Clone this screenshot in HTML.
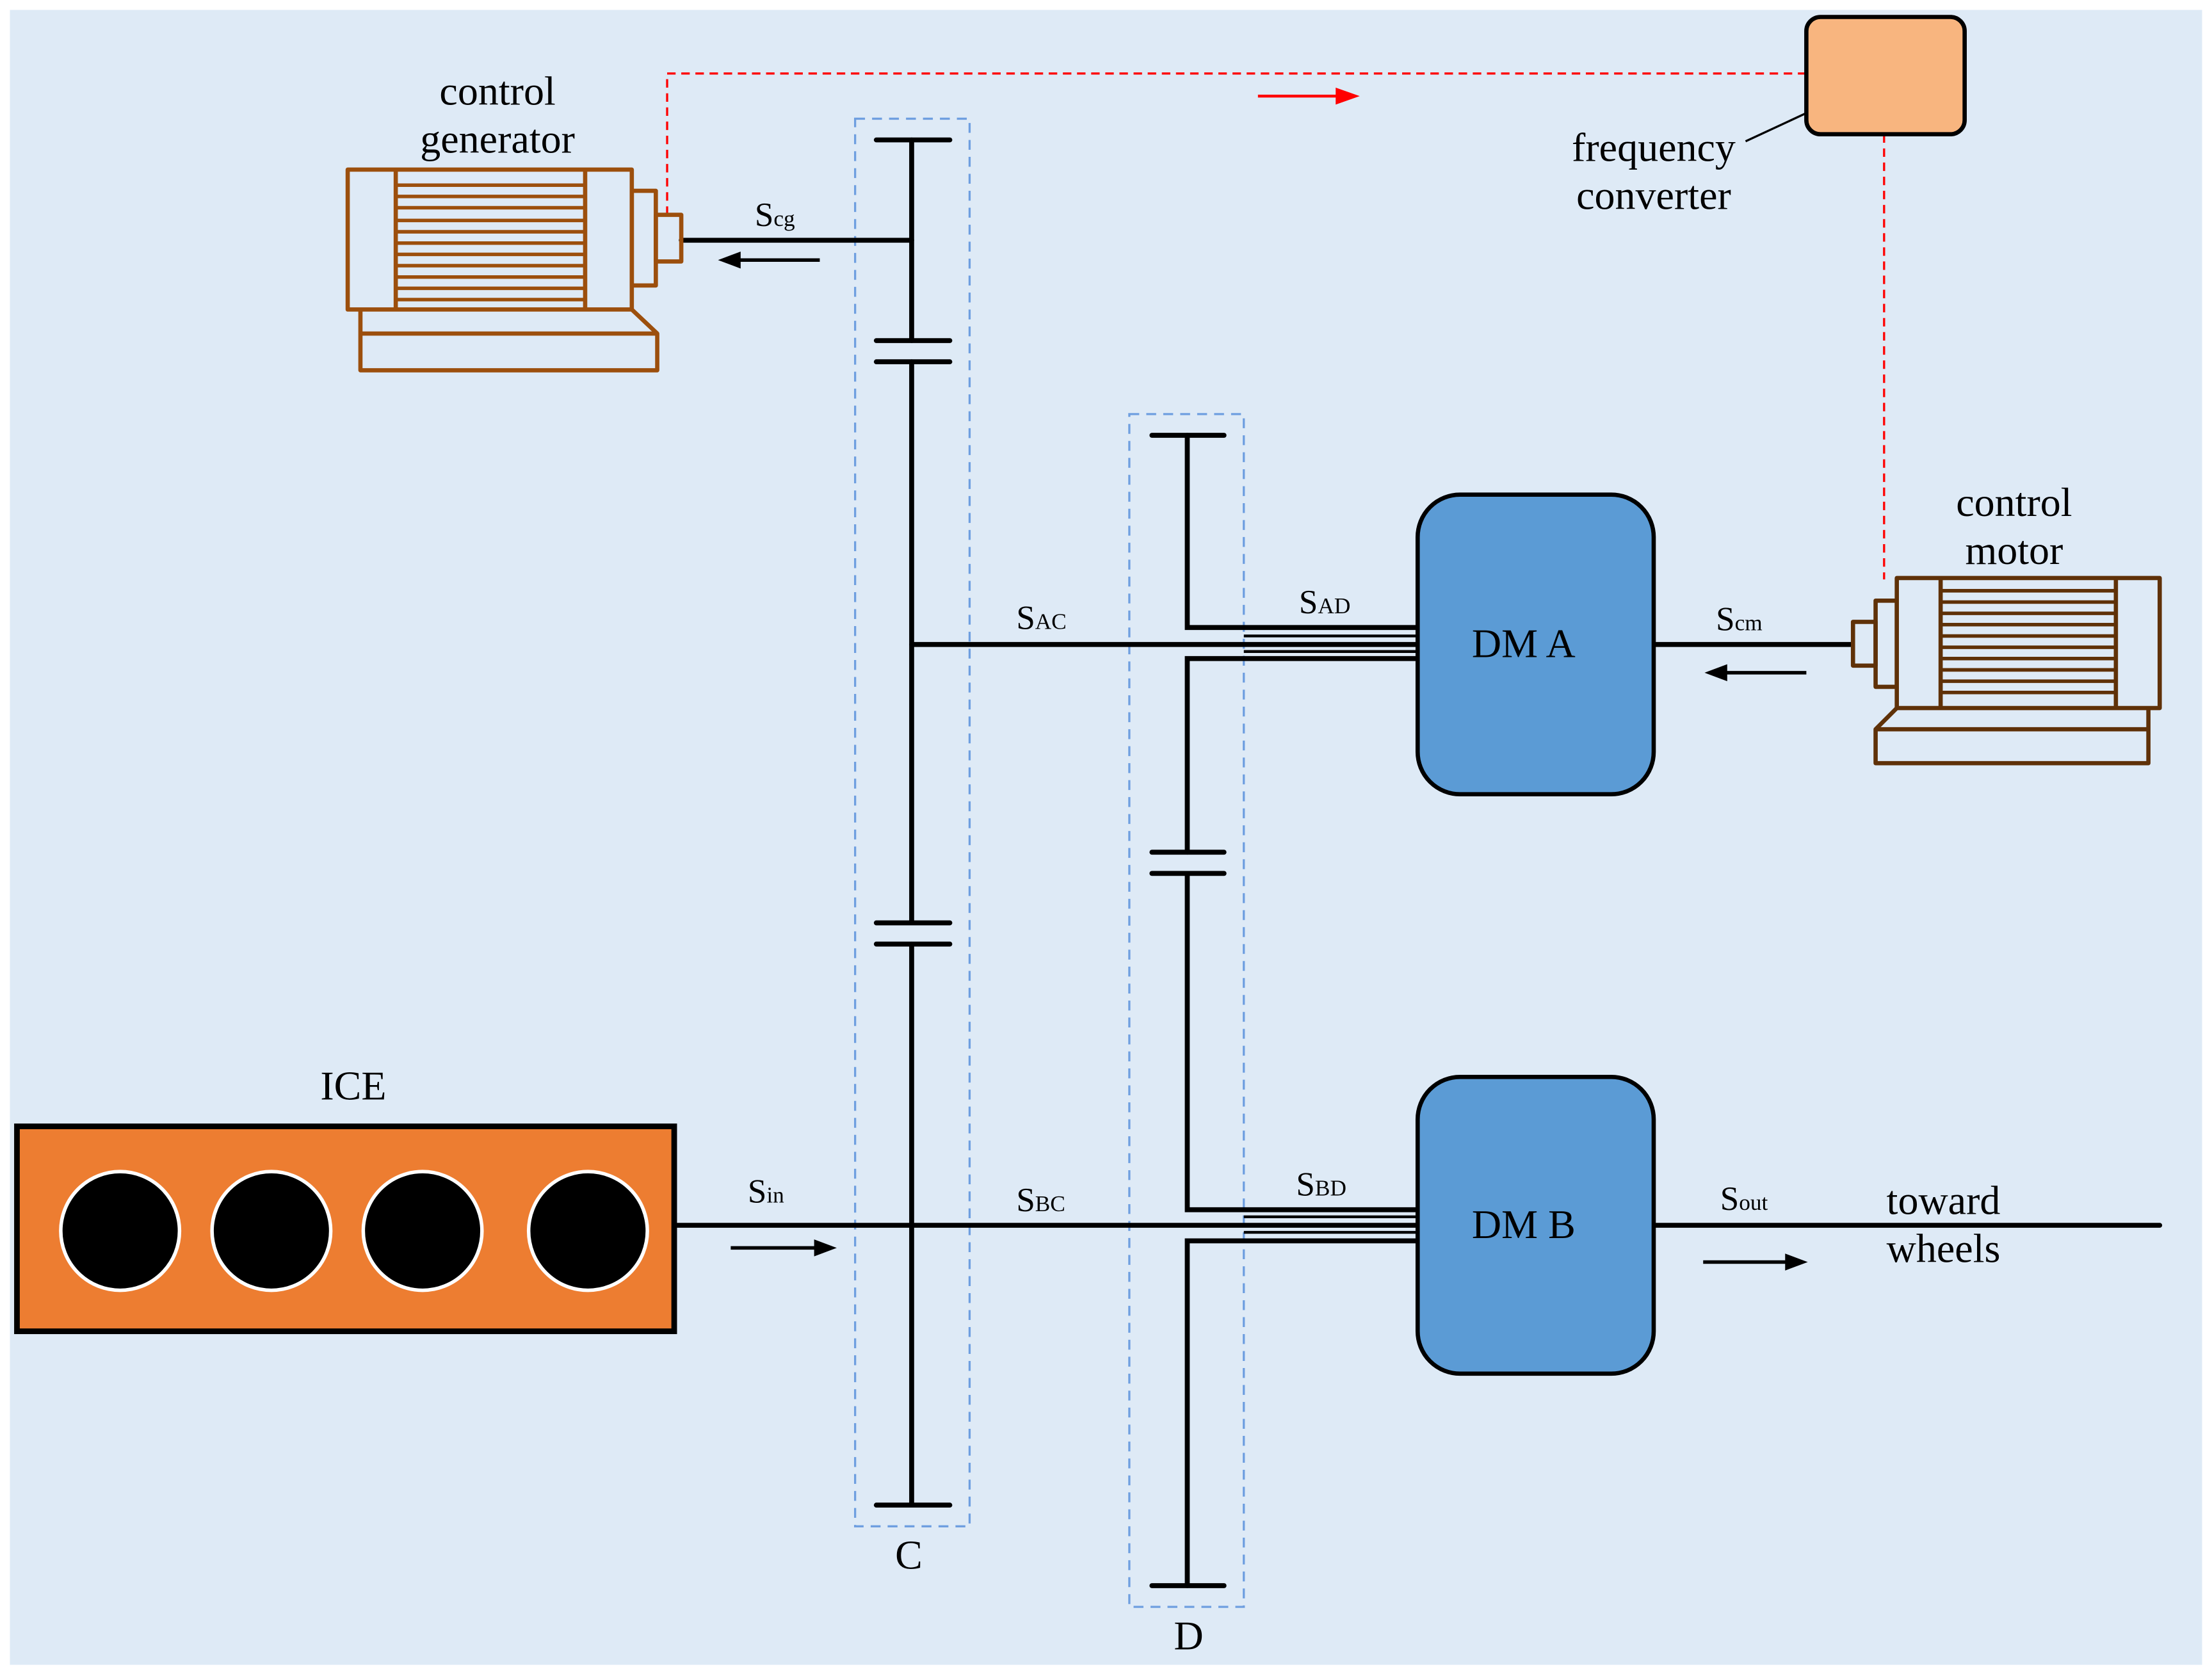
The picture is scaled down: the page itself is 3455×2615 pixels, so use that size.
<!DOCTYPE html>
<html><head><style>html,body{margin:0;padding:0;background:#fff}svg{display:block}text{font-family:"Liberation Serif",serif;fill:#000}</style></head><body>
<svg width="3455" height="2615" viewBox="0 0 1565 1184.5" xmlns="http://www.w3.org/2000/svg">
<rect x="0" y="0" width="1565" height="1185" fill="#fff"/>
<rect x="7" y="7" width="1551" height="1171" fill="#deeaf6"/>
<rect x="605" y="84" width="81" height="996" fill="none" stroke="#6f9fe0" stroke-width="1.5" stroke-dasharray="7,5"/>
<rect x="799" y="293" width="81" height="844" fill="none" stroke="#6f9fe0" stroke-width="1.5" stroke-dasharray="7,5"/>
<polyline points="472,152 472,52 1278,52" fill="none" stroke="#f00" stroke-width="1.5" stroke-dasharray="6,4"/>
<line x1="1333" y1="95" x2="1333" y2="410" stroke="#f00" stroke-width="1.5" stroke-dasharray="6,4"/>
<line x1="890" y1="68" x2="948" y2="68" stroke="#f00" stroke-width="2"/>
<polygon points="962,68 945,62 945,74" fill="#f00"/>
<g stroke="#000" stroke-width="3.5" fill="none" stroke-linecap="round">
<line x1="620" y1="99" x2="672" y2="99"/><line x1="645" y1="99" x2="645" y2="241"/>
<line x1="620" y1="241" x2="672" y2="241"/><line x1="620" y1="256" x2="672" y2="256"/>
<line x1="645" y1="256" x2="645" y2="653"/>
<line x1="620" y1="653" x2="672" y2="653"/><line x1="620" y1="668" x2="672" y2="668"/>
<line x1="645" y1="668" x2="645" y2="1065"/><line x1="620" y1="1065" x2="672" y2="1065"/>
<line x1="482" y1="170" x2="645" y2="170"/>
<line x1="645" y1="456" x2="1003" y2="456"/>
<line x1="478" y1="867" x2="1003" y2="867"/>
<line x1="815" y1="308" x2="866" y2="308"/>
<polyline points="840,308 840,444 1003,444"/>
<polyline points="1003,466 840,466 840,603"/>
<line x1="815" y1="603" x2="866" y2="603"/><line x1="815" y1="618" x2="866" y2="618"/>
<polyline points="840,618 840,856 1003,856"/>
<polyline points="1003,878 840,878 840,1122"/>
<line x1="815" y1="1122" x2="866" y2="1122"/>
<line x1="1170" y1="456" x2="1310" y2="456"/>
<line x1="1170" y1="867" x2="1528" y2="867"/>
</g>
<g stroke="#000" stroke-width="2"><line x1="880" y1="450" x2="1003" y2="450"/><line x1="880" y1="461" x2="1003" y2="461"/><line x1="880" y1="861" x2="1003" y2="861"/><line x1="880" y1="872" x2="1003" y2="872"/></g>
<g stroke="#000" stroke-width="2.5"><line x1="520" y1="184" x2="580" y2="184"/><line x1="517" y1="883" x2="578" y2="883"/><line x1="1220" y1="476" x2="1278" y2="476"/><line x1="1205" y1="893" x2="1265" y2="893"/></g>
<polygon points="508,184 524,178 524,190"/><polygon points="592,883 576,877 576,889"/><polygon points="1206,476 1222,470 1222,482"/><polygon points="1279,893 1263,887 1263,899"/>
<rect x="1003" y="350" width="167" height="212" rx="30" fill="#5b9bd5" stroke="#000" stroke-width="3"/>
<rect x="1003" y="762" width="167" height="210" rx="30" fill="#5b9bd5" stroke="#000" stroke-width="3"/>
<rect x="12" y="797" width="465" height="145" fill="#ed7d31" stroke="#000" stroke-width="4"/>
<g fill="#000" stroke="#fff" stroke-width="2.5"><circle cx="85" cy="871" r="42"/><circle cx="192" cy="871" r="42"/><circle cx="299" cy="871" r="42"/><circle cx="416" cy="871" r="42"/></g>
<rect x="1278" y="12" width="112" height="83" rx="10" fill="#f8b57f" stroke="#000" stroke-width="3"/>
<line x1="1235" y1="100" x2="1278" y2="80" stroke="#000" stroke-width="1.5"/>
<g stroke="#9c4f0d" stroke-width="3" fill="none" stroke-linejoin="round">
<rect x="246" y="120" width="201" height="99"/>
<line x1="280" y1="120" x2="280" y2="219"/><line x1="414" y1="120" x2="414" y2="219"/>
<g stroke-width="2.5"><line x1="280" y1="131" x2="414" y2="131"/><line x1="280" y1="139" x2="414" y2="139"/><line x1="280" y1="147" x2="414" y2="147"/><line x1="280" y1="156" x2="414" y2="156"/><line x1="280" y1="164" x2="414" y2="164"/><line x1="280" y1="172" x2="414" y2="172"/><line x1="280" y1="180" x2="414" y2="180"/><line x1="280" y1="188" x2="414" y2="188"/><line x1="280" y1="196" x2="414" y2="196"/><line x1="280" y1="204" x2="414" y2="204"/><line x1="280" y1="212" x2="414" y2="212"/></g>
<rect x="447" y="135" width="17" height="67"/>
<rect x="464" y="152" width="18" height="33"/>
<polyline points="255,219 255,262 465,262 465,236 447,219"/>
<line x1="255" y1="236" x2="465" y2="236"/>
</g>
<g stroke="#5f3108" stroke-width="3" fill="none" stroke-linejoin="round">
<rect x="1342" y="409" width="186" height="92"/>
<line x1="1373" y1="409" x2="1373" y2="501"/><line x1="1497" y1="409" x2="1497" y2="501"/>
<g stroke-width="2.5"><line x1="1373" y1="418" x2="1497" y2="418"/><line x1="1373" y1="426" x2="1497" y2="426"/><line x1="1373" y1="434" x2="1497" y2="434"/><line x1="1373" y1="442" x2="1497" y2="442"/><line x1="1373" y1="450" x2="1497" y2="450"/><line x1="1373" y1="458" x2="1497" y2="458"/><line x1="1373" y1="466" x2="1497" y2="466"/><line x1="1373" y1="474" x2="1497" y2="474"/><line x1="1373" y1="482" x2="1497" y2="482"/><line x1="1373" y1="490" x2="1497" y2="490"/></g>
<rect x="1327" y="425" width="15" height="61"/>
<rect x="1311" y="440" width="16" height="31"/>
<polyline points="1342,501 1327,516 1327,540 1520,540 1520,501"/>
<line x1="1327" y1="516" x2="1520" y2="516"/>
</g>
<g font-size="29" text-anchor="middle">
<text x="352" y="74">control</text><text x="352" y="108">generator</text>
<text x="1170" y="114">frequency</text><text x="1170" y="148">converter</text>
<text x="1425" y="365">control</text><text x="1425" y="399">motor</text>
<text x="250" y="778">ICE</text>
<text x="643" y="1110">C</text><text x="841" y="1167">D</text>
<text x="1078" y="465">DM A</text><text x="1078" y="876">DM B</text>
<text x="1375" y="859">toward</text><text x="1375" y="893">wheels</text>
</g>
<g font-size="24">
<text x="534" y="160">S<tspan font-size="16">cg</tspan></text>
<text x="719" y="445">S<tspan font-size="16">AC</tspan></text>
<text x="919" y="434">S<tspan font-size="16">AD</tspan></text>
<text x="1214" y="446">S<tspan font-size="16">cm</tspan></text>
<text x="529" y="851">S<tspan font-size="16">in</tspan></text>
<text x="719" y="857">S<tspan font-size="16">BC</tspan></text>
<text x="917" y="846">S<tspan font-size="16">BD</tspan></text>
<text x="1217" y="856">S<tspan font-size="16">out</tspan></text>
</g>
</svg>
</body></html>
